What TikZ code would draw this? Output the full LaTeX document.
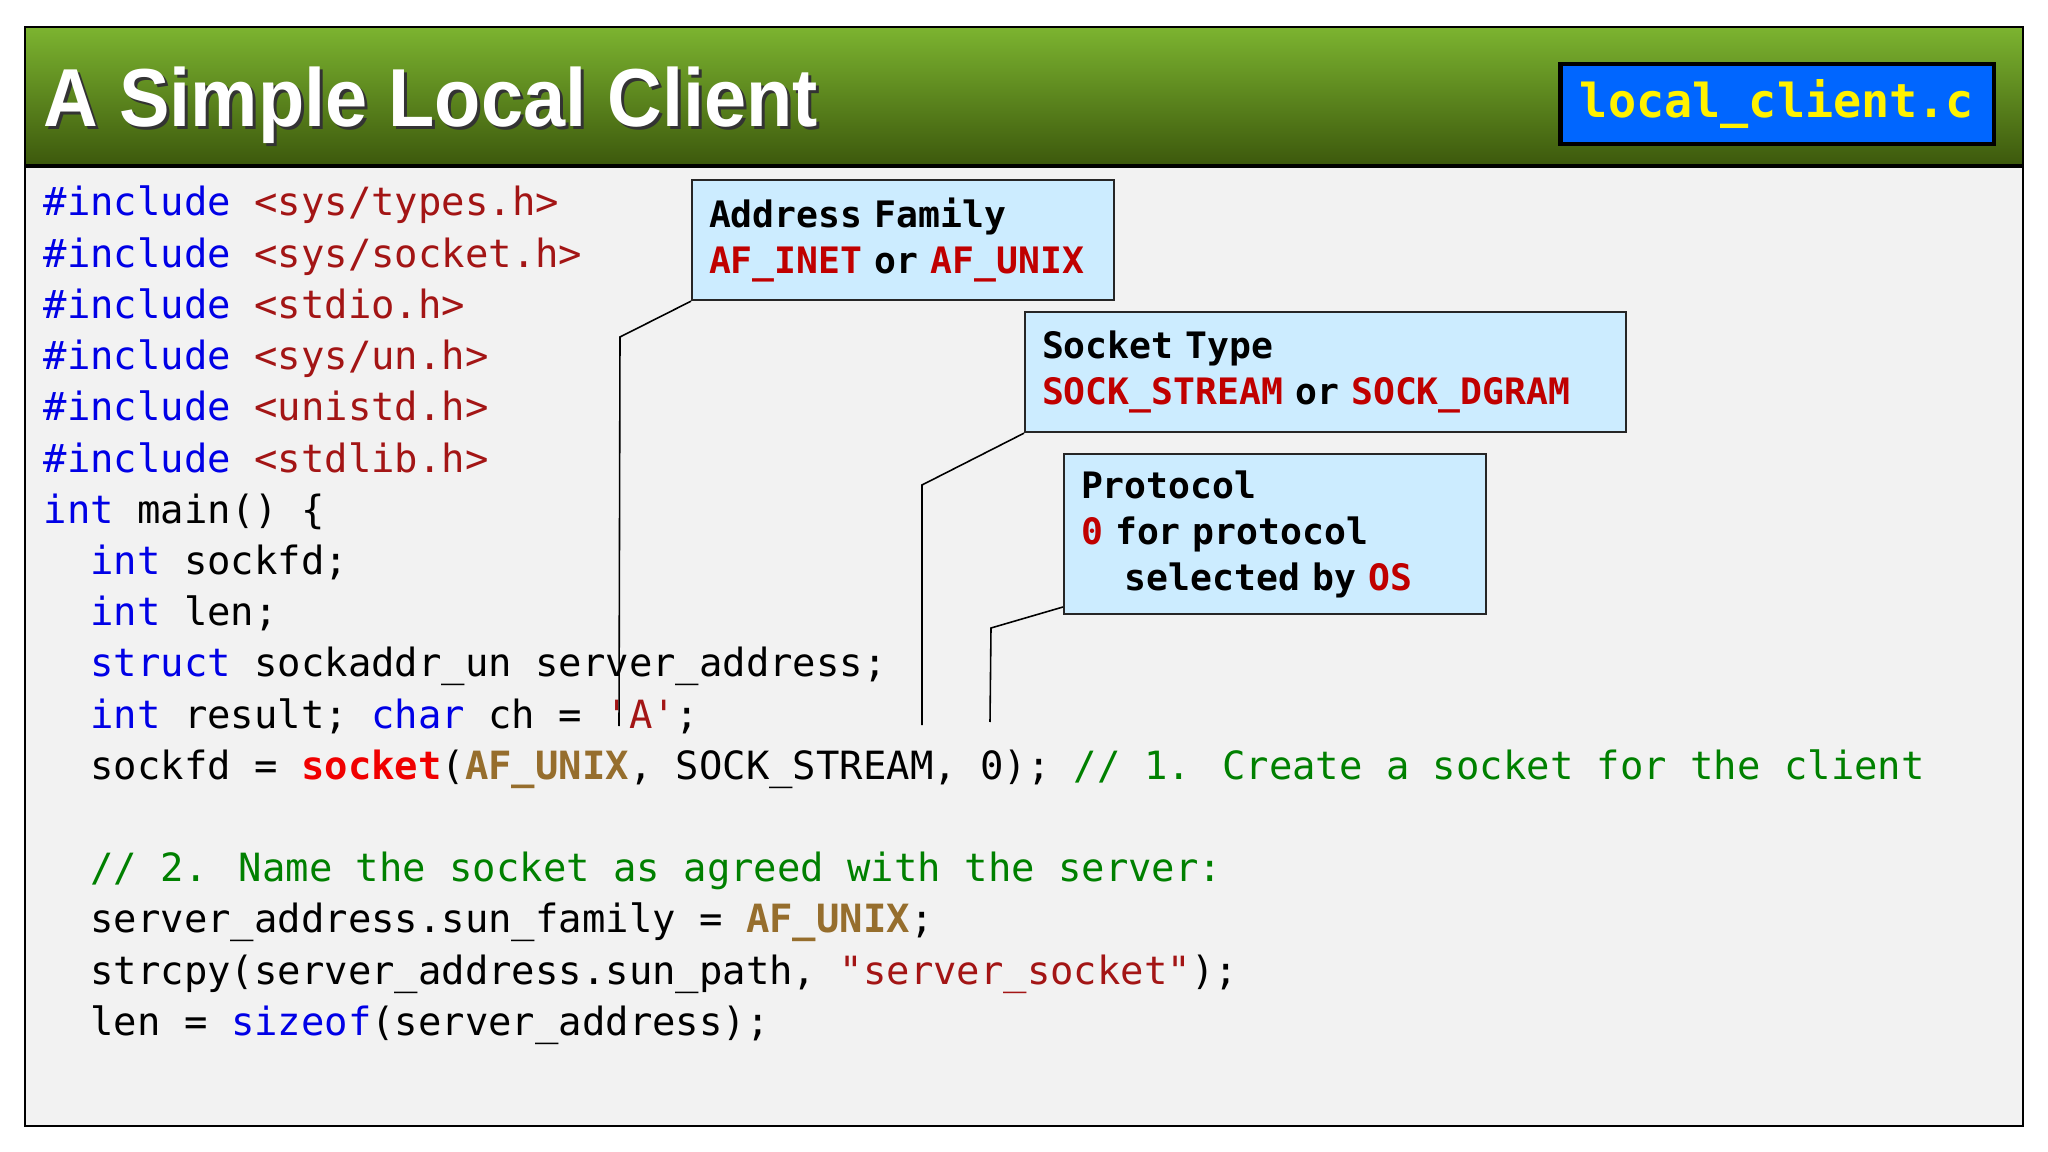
\documentclass[tikz,border=0pt]{standalone}
\usepackage{fontspec}
\newfontfamily\codefont[Ligatures=TeXOff]{DejaVu Sans Mono}
\newfontfamily\titlefont[FakeStretch=0.92]{Liberation Sans}
%% colours of the slide
\definecolor{titletop}{RGB}{124,180,48}
\definecolor{titlemid}{RGB}{98,145,32}
\definecolor{titlebot}{RGB}{60,88,12}
\definecolor{slidegray}{RGB}{242,242,242}
\definecolor{fileblue}{RGB}{0,102,255}
\definecolor{notefill}{RGB}{204,236,255}
\definecolor{notered}{RGB}{192,0,0}
%% colours of the code
\definecolor{kwblue}{RGB}{0,0,230}
\definecolor{hdrred}{RGB}{163,21,21}
\definecolor{fnred}{RGB}{240,0,0}
\definecolor{constbrown}{RGB}{150,110,45}
\definecolor{cmtgreen}{RGB}{0,128,0}
\newcommand{\ckw}[1]{\textcolor{kwblue}{#1}}
\newcommand{\chdr}[1]{\textcolor{hdrred}{#1}}
\newcommand{\cfn}[1]{\textcolor{fnred}{\bfseries #1}}
\newcommand{\cconst}[1]{\textcolor{constbrown}{\bfseries #1}}
\newcommand{\ccmt}[1]{\textcolor{cmtgreen}{#1}}
\newcommand{\cstr}[1]{\textcolor{hdrred}{#1}}
\newcommand{\nred}[1]{\textcolor{notered}{#1}}
\begin{document}
\begin{tikzpicture}[x=0.01cm,y=-0.01cm,
    code/.style={anchor=base west,inner sep=0pt,font=\codefont\fontsize{11.06pt}{14.5pt}\selectfont},
    notebox/.style={draw=black!85,line width=0.6pt,fill=notefill,anchor=north west,align=left,
      inner xsep=0.17cm,inner ysep=0pt,font=\codefont\bfseries\fontsize{10.35pt}{13.1pt}\selectfont},
    titletext/.style={anchor=base west,inner sep=0pt,font=\titlefont\bfseries\fontsize{23.4pt}{28pt}\selectfont},
    leader/.style={draw=black,line width=0.45pt}]
  \useasboundingbox (0,0) rectangle (2048,1152);
  %% the slide
  \fill[slidegray] (25,166) rectangle (2023,1126);
  \shade[top color=titletop,middle color=titlemid,bottom color=titlebot] (25,27) rectangle (2023,166);
  \draw[line width=1.3pt] (25,166) -- (2023,166);
  \draw[line width=0.8pt] (25,27) rectangle (2023,1126);
  %% title and file name
  \node[titletext,text=black!80] (titleshadow) at (46,130) {A Simple Local Client};
  \node[titletext,text=white] (title) at (43,127) {A Simple Local Client};
  \node[draw=black,line width=1.2pt,fill=fileblue,minimum width=4.33cm,minimum height=0.8cm,inner sep=0pt,
    text=yellow,font=\codefont\bfseries\fontsize{13.3pt}{16pt}\selectfont] (file) at (1777,104) {local\_client.c};
  %% the code, one line every 51.2
  \foreach \h [count=\i] in {sys/types.h,sys/socket.h,stdio.h,sys/un.h,unistd.h,stdlib.h}
    \node[code] (inc\i) at (43,{216+(\i-1)*51.2}) {\ckw{\#include} \chdr{<\h>}};
  \node[code] (main) at (43,523.2) {\ckw{int} main() \{};
  \node[code] (l8) at (89.8,574.4) {\ckw{int} sockfd;};
  \node[code] (l9) at (89.8,625.6) {\ckw{int} len;};
  \node[code] (l10) at (89.8,676.8) {\ckw{struct} sockaddr\_un server\_address;};
  \node[code] (l11) at (89.8,728) {\ckw{int} result; \ckw{char} ch = \cstr{'A'};};
  \node[code] (l12) at (89.8,779.2) {sockfd = \cfn{socket}(\cconst{AF\_UNIX}, SOCK\_STREAM, 0); \ccmt{// 1. Create a socket for the client}};
  \node[code] (l14) at (89.8,881.6) {\ccmt{// 2. Name the socket as agreed with the server:}};
  \node[code] (l15) at (89.8,932.8) {server\_address.sun\_family = \cconst{AF\_UNIX};};
  \node[code] (l16) at (89.8,984) {strcpy(server\_address.sun\_path, \cstr{"server\_socket"});};
  \node[code] (l17) at (89.8,1035.2) {len = \ckw{sizeof}(server\_address);};
  %% the notes
  \node[notebox,text width=3.88cm,minimum height=1.2cm] (family) at (691,179)
    {Address Family\\\nred{AF\_INET} or \nred{AF\_UNIX}};
  \node[notebox,text width=5.67cm,minimum height=1.2cm] (type) at (1024,311)
    {Socket Type\\\nred{SOCK\_STREAM} or \nred{SOCK\_DGRAM}};
  \node[notebox,text width=3.88cm,minimum height=1.6cm] (proto) at (1063,453)
    {Protocol\\\nred{0} for protocol\\\phantom{00}selected by \nred{OS}};
  %% leaders down to the call
  \coordinate (family1) at (620,337);
  \coordinate (family2) at (619,726);
  \coordinate (type1) at (922,485);
  \coordinate (type2) at (922,725);
  \coordinate (proto0) at (1063,607);
  \coordinate (proto1) at (991,628);
  \coordinate (proto2) at (990,722);
  \draw[leader] (family.south west) -- (family1) -- (family2);
  \draw[leader] (type.south west) -- (type1) -- (type2);
  \draw[leader] (proto0) -- (proto1) -- (proto2);
\end{tikzpicture}
\end{document}
